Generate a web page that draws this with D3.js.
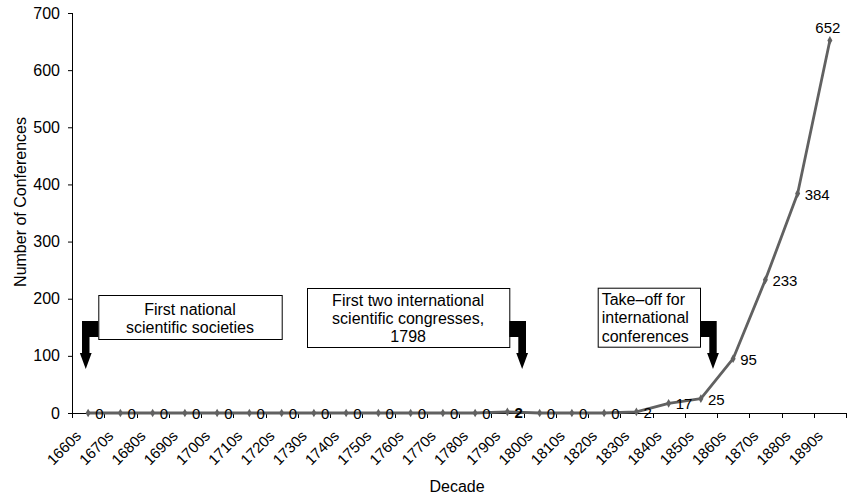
<!DOCTYPE html>
<html>
<head>
<meta charset="utf-8">
<script src="https://cdn.jsdelivr.net/npm/d3@7"></script>
<style>
  html, body { margin: 0; padding: 0; background: #fff; }
  svg { display: block; font-family: "Liberation Sans", Arial, Helvetica, sans-serif; }
</style>
</head>
<body>
<svg id="chart" width="847" height="494"></svg>
<script>
// ---- data ----
const decades = ["1660s","1670s","1680s","1690s","1700s","1710s","1720s","1730s","1740s","1750s","1760s","1770s","1780s","1790s","1800s","1810s","1820s","1830s","1840s","1850s","1860s","1870s","1880s","1890s"];
const conferences = [0,0,0,0,0,0,0,0,0,0,0,0,0,2,0,0,0,2,17,25,95,233,384,652];
const yTicks = [0,100,200,300,400,500,600,700];
const boldLabelDecades = ["1790s"];
const labelAboveDecades = ["1890s"];

// annotations (callout boxes with bent arrows)
const callouts = [
  { lines: ["First national", "scientific societies"], box: [98.3, 295, 183.4, 44], align: "middle", baselines: [315, 333], arrow: "left",  blockX: [82, 98.3], shaftX: [82, 89.5] },
  { lines: ["First two international", "scientific congresses,", "1798"], box: [307, 288, 202.3, 59], align: "middle", baselines: [305.5, 323.5, 341.5], arrow: "right", blockX: [509.3, 526], shaftX: [518.3, 526] },
  { lines: ["Take\u2013off for", "international", "conferences"], box: [597.7, 287.7, 102.3, 59], align: "start", baselines: [305, 323.3, 341.5], arrow: "right", blockX: [700, 716.7], shaftX: [709.3, 716.7] }
];

// ---- layout ----
const margin = { top: 13, right: 1, bottom: 81, left: 72 };
const W = 847, H = 494;
const iw = W - margin.left - margin.right;
const ih = H - margin.top - margin.bottom;

const svg = d3.select("#chart");
const g = svg.append("g").attr("transform", `translate(${margin.left},${margin.top})`);

const x = d3.scaleBand().domain(decades).range([0, iw]).paddingInner(0).paddingOuter(0);
const y = d3.scaleLinear().domain([0, 700]).range([ih, 0]);
const cx = d => x(d) + x.bandwidth() / 2;

// y axis
const yAxis = g.append("g").call(d3.axisLeft(y).tickValues(yTicks).tickSize(4).tickPadding(8).tickFormat(d3.format("d")));
yAxis.select(".domain").attr("stroke", "#000").attr("stroke-width", 1).attr("d", `M0.5,${ih}V0`);
yAxis.selectAll(".tick line").attr("stroke", "#000");
yAxis.selectAll(".tick text").attr("font-size", 16).attr("fill", "#000").attr("font-family", "Liberation Sans, Arial, sans-serif");

// x axis: line + ticks at category boundaries
const xg = g.append("g").attr("transform", `translate(0,${ih})`);
xg.append("line").attr("x1", 0).attr("x2", iw).attr("y1", 0.5).attr("y2", 0.5).attr("stroke", "#000");
const boundaries = decades.map(d => x(d)).concat([iw]);
xg.selectAll("line.tk").data(boundaries).enter().append("line")
  .attr("class", "tk").attr("x1", d => Math.round(d) + 0.5).attr("x2", d => Math.round(d) + 0.5)
  .attr("y1", 0).attr("y2", 5).attr("stroke", "#000");
xg.selectAll("text.tl").data(decades).enter().append("text")
  .attr("class", "tl")
  .attr("transform", d => `translate(${cx(d) - 6},${24}) rotate(-45)`)
  .attr("text-anchor", "end")
  .attr("font-size", 15)
  .attr("fill", "#000")
  .text(d => d);

// axis titles
svg.append("text").attr("transform", `translate(26,202) rotate(-90)`)
  .attr("text-anchor", "middle").attr("font-size", 16).attr("fill", "#000").text("Number of Conferences");
svg.append("text").attr("x", margin.left + iw / 2 - 2).attr("y", 492)
  .attr("text-anchor", "middle").attr("font-size", 16).attr("fill", "#000").text("Decade");

// series line
const data = decades.map((d, i) => ({ d, v: conferences[i] }));
const lineGen = d3.line().x(p => cx(p.d)).y(p => y(p.v));
g.append("path").datum(data).attr("d", lineGen)
  .attr("fill", "none").attr("stroke", "#616161").attr("stroke-width", 2.8).attr("stroke-linejoin", "round");

// diamond markers
g.selectAll("path.mk").data(data).enter().append("path")
  .attr("class", "mk")
  .attr("d", d3.symbol().type(d3.symbolDiamond).size(22))
  .attr("transform", p => `translate(${cx(p.d)},${y(p.v)})`)
  .attr("fill", "#616161");

// data labels
g.selectAll("text.dl").data(data).enter().append("text")
  .attr("class", "dl")
  .attr("x", p => labelAboveDecades.includes(p.d) ? cx(p.d) - 2 : cx(p.d) + 7)
  .attr("y", p => labelAboveDecades.includes(p.d) ? y(p.v) - 7 : y(p.v))
  .attr("dy", p => labelAboveDecades.includes(p.d) ? 0 : "0.4em")
  .attr("text-anchor", p => labelAboveDecades.includes(p.d) ? "middle" : "start")
  .attr("font-size", 15)
  .attr("font-weight", p => boldLabelDecades.includes(p.d) ? "bold" : "normal")
  .attr("fill", "#000")
  .text(p => p.v);

// callouts
const blockTop = 321, blockBot = 337, shaftBot = 353, tipY = 369, headHalf = 5.9;
callouts.forEach(c => {
  const [bx, by, bw, bh] = c.box;
  svg.append("rect").attr("x", bx + 0.5).attr("y", by + 0.5).attr("width", bw).attr("height", bh)
    .attr("fill", "#fff").attr("stroke", "#000").attr("stroke-width", 1);
  const tx = c.align === "middle" ? bx + bw / 2 : bx + 4;
  c.lines.forEach((ln, i) => {
    svg.append("text").attr("x", tx).attr("y", c.baselines[i])
      .attr("text-anchor", c.align).attr("font-size", 16).attr("fill", "#000").text(ln);
  });
  const [s0, s1] = c.shaftX;
  const mid = (s0 + s1) / 2;
  const [b0, b1] = c.blockX;
  let pts;
  if (c.arrow === "left") {
    pts = [[b1, blockTop], [b0, blockTop], [s0, shaftBot], [mid - headHalf, shaftBot], [mid, tipY], [mid + headHalf, shaftBot], [s1, shaftBot], [s1, blockBot], [b1, blockBot]];
    pts[1] = [b0, blockTop]; pts.splice(2, 0, [b0, shaftBot]);
  } else {
    pts = [[b0, blockTop], [b1, blockTop], [s1, shaftBot], [mid + headHalf, shaftBot], [mid, tipY], [mid - headHalf, shaftBot], [s0, shaftBot], [s0, blockBot], [b0, blockBot]];
  }
  svg.append("path").attr("d", "M" + pts.map(p => p.join(",")).join("L") + "Z").attr("fill", "#000");
});
</script>
</body>
</html>
